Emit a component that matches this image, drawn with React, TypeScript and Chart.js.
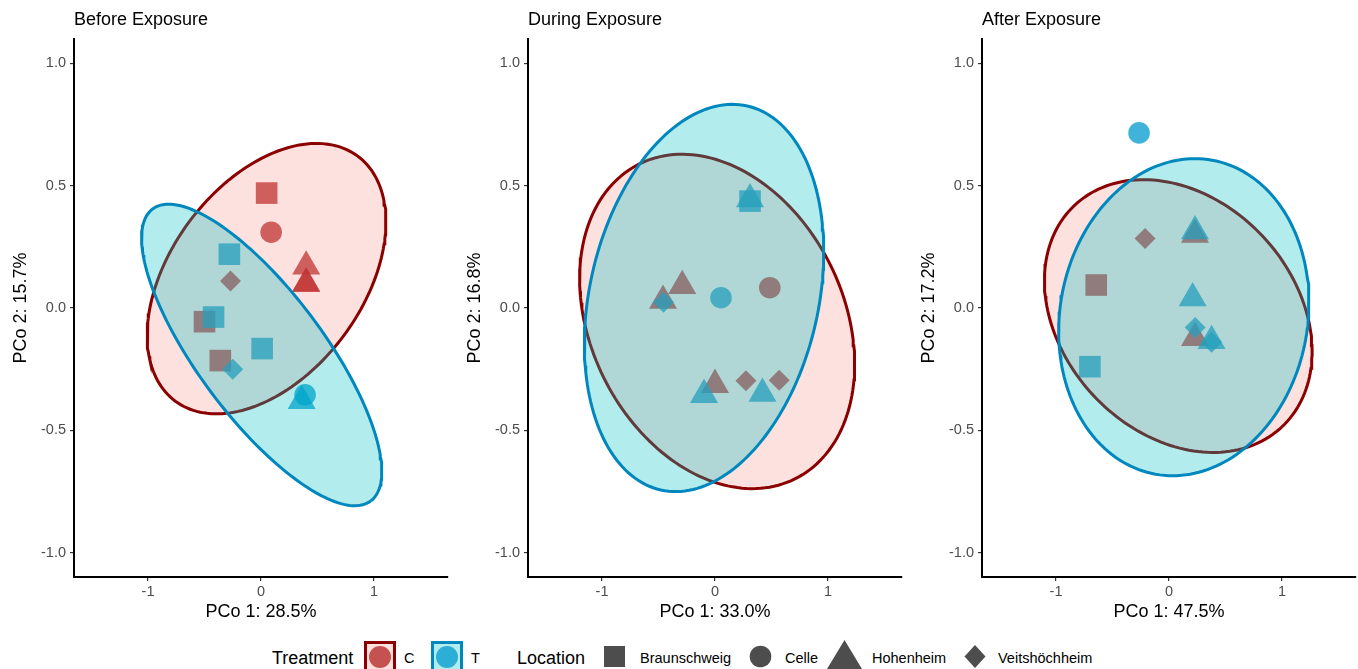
import React, { useEffect, useRef } from 'react';
import { Chart, registerables } from 'chart.js';

Chart.register(...registerables);

const FONT = '"Liberation Sans", Arial, Helvetica, sans-serif';

// ---- labels / ticks ----
const PANEL_TITLES = ['Before Exposure', 'During Exposure', 'After Exposure'];
const X_AXIS_TITLES = ['PCo 1: 28.5%', 'PCo 1: 33.0%', 'PCo 1: 47.5%'];
const Y_AXIS_TITLES = ['PCo 2: 15.7%', 'PCo 2: 16.8%', 'PCo 2: 17.2%'];
const X_TICKS = [-1, 0, 1];
const Y_TICKS = [-1, -0.5, 0, 0.5, 1];
const LOCATIONS = ['Braunschweig', 'Celle', 'Hohenheim', 'Veitshöchheim'];
// location codes: B = Braunschweig, C = Celle, H = Hohenheim, V = Veitshöchheim

// ---- Before exposure ----
const BEFORE_C_X = [0.05, 0.09, 0.40, 0.40, 0.40, -0.27, -0.50, -0.36];
const BEFORE_C_Y = [0.47, 0.31, 0.17, 0.10, 0.10, 0.11, -0.056, -0.215];
const BEFORE_C_LOC = ['B', 'C', 'H', 'H', 'H', 'V', 'B', 'B'];
const BEFORE_T_X = [-0.28, -0.42, 0.01, -0.25, 0.36, 0.39];
const BEFORE_T_Y = [0.22, -0.037, -0.166, -0.25, -0.38, -0.355];
const BEFORE_T_LOC = ['B', 'B', 'B', 'V', 'H', 'C'];
// ellipse: centre x, centre y, axis-1 dx, dy, axis-2 dx, dy
const BEFORE_C_ELLIPSE = [0.049, 0.12, 0.807, 0.501, -0.682, 0.234];
const BEFORE_T_ELLIPSE = [0.006, -0.192, 0.965, -0.597, 0.446, 0.1535];

// ---- During exposure ----
const DURING_C_X = [-0.46, -0.29, 0.485, 0.0, 0.274, 0.568];
const DURING_C_Y = [0.03, 0.09, 0.083, -0.314, -0.298, -0.295];
const DURING_C_LOC = ['H', 'H', 'C', 'H', 'V', 'V'];
const DURING_T_X = [0.31, 0.31, -0.456, 0.053, -0.097, 0.42];
const DURING_T_Y = [0.437, 0.445, 0.024, 0.042, -0.355, -0.35];
const DURING_T_LOC = ['B', 'H', 'V', 'C', 'H', 'H'];
const DURING_C_ELLIPSE = [0.019, -0.055, 0.688, -0.644, 1.004, 0.2295];
const DURING_T_ELLIPSE = [-0.097, 0.041, 0.383, 0.785, -0.9875, 0.103];

// ---- After exposure ----
const AFTER_C_X = [-0.212, 0.23, -0.644, 0.23];
const AFTER_C_Y = [0.284, 0.30, 0.094, -0.122];
const AFTER_C_LOC = ['V', 'H', 'B', 'H'];
const AFTER_T_X = [-0.265, 0.23, 0.209, 0.232, 0.377, 0.377, -0.70];
const AFTER_T_Y = [0.716, 0.314, 0.04, -0.08, -0.135, -0.14, -0.24];
const AFTER_T_LOC = ['C', 'H', 'H', 'V', 'H', 'V', 'B'];
const AFTER_C_ELLIPSE = [0.082, -0.033, 0.9156, -0.4538, 0.7517, 0.3243];
const AFTER_T_ELLIPSE = [0.131, -0.0376, 0.251, 0.642, -1.0787, 0.0902];

// ---- styles ----
const SHAPE_STYLE: Record<string, string> = { B: 'rect', C: 'circle', H: 'triangle', V: 'rectRot' };
const SHAPE_RADIUS: Record<string, number> = { B: 15.3, C: 10.8, H: 16.2, V: 10.5 };
const POINT_C = 'rgba(178,34,34,0.75)';
const POINT_T = 'rgba(0,154,205,0.75)';
const LINE_C = '#8B0000';
const LINE_T = '#0087BE';
const FILL_C = 'rgba(248,118,109,0.22)';
const FILL_T = 'rgba(0,191,196,0.3)';

const PANEL_LEFT = [0, 454, 908];

function ellipsePoints(e: number[]) {
  const pts: { x: number; y: number }[] = [];
  const n = 180;
  for (let i = 0; i <= n; i++) {
    const t = (i / n) * Math.PI * 2;
    pts.push({
      x: e[0] + e[2] * Math.cos(t) + e[4] * Math.sin(t),
      y: e[1] + e[3] * Math.cos(t) + e[5] * Math.sin(t),
    });
  }
  return pts;
}

function pointDataset(xs: number[], ys: number[], locs: string[], color: string, order: number) {
  return {
    type: 'scatter' as const,
    data: xs.map((x, i) => ({ x, y: ys[i] })),
    backgroundColor: color,
    borderWidth: 0,
    borderColor: 'rgba(0,0,0,0)',
    pointStyle: (ctx: any) => SHAPE_STYLE[locs[ctx.dataIndex]] as any,
    pointRadius: (ctx: any) => SHAPE_RADIUS[locs[ctx.dataIndex]],
    pointHoverRadius: (ctx: any) => SHAPE_RADIUS[locs[ctx.dataIndex]],
    order,
  };
}

function ellipseDataset(e: number[], line: string, fill: string, order: number) {
  return {
    type: 'scatter' as const,
    data: ellipsePoints(e),
    showLine: true,
    borderColor: line,
    borderWidth: 3,
    backgroundColor: fill,
    fill: 'shape' as any,
    pointRadius: 0,
    pointHoverRadius: 0,
    tension: 0,
    order,
  };
}

interface PanelProps {
  idx: number;
  cX: number[]; cY: number[]; cLoc: string[];
  tX: number[]; tY: number[]; tLoc: string[];
  cEll: number[]; tEll: number[];
}

function Panel(p: PanelProps) {
  const ref = useRef<HTMLCanvasElement>(null);
  useEffect(() => {
    const chart = new Chart(ref.current as HTMLCanvasElement, {
      type: 'scatter',
      data: {
        datasets: [
          ellipseDataset(p.tEll, LINE_T, FILL_T, 0),
          ellipseDataset(p.cEll, LINE_C, FILL_C, 1),
          pointDataset(p.tX, p.tY, p.tLoc, POINT_T, 2),
          pointDataset(p.cX, p.cY, p.cLoc, POINT_C, 3),
        ] as any,
      },
      options: {
        animation: false,
        responsive: false,
        maintainAspectRatio: false,
        devicePixelRatio: 1,
        events: [],
        layout: { autoPadding: false, padding: { top: 39, right: 2, left: 0, bottom: 0 } },
        plugins: {
          legend: { display: false },
          tooltip: { enabled: false },
          title: { display: false },
        },
        scales: {
          x: {
            type: 'linear',
            min: -1.655,
            max: 1.655,
            afterBuildTicks: (s: any) => { s.ticks = X_TICKS.map((v) => ({ value: v })); },
            afterFit: (s: any) => { s.height = 53; },
            grid: { display: true, drawOnChartArea: false, drawTicks: true, tickLength: 4, color: '#333333', lineWidth: 1.2 },
            border: { display: true, color: '#000000', width: 2 },
            ticks: {
              font: { family: FONT, size: 14.5 },
              color: '#4D4D4D',
              padding: 2,
              maxRotation: 0,
              autoSkip: false,
              callback: (v: any) => String(v),
            },
            title: {
              display: true,
              text: X_AXIS_TITLES[p.idx],
              font: { family: FONT, size: 18 },
              color: '#000000',
              padding: { top: 0, bottom: 7 },
            },
          },
          y: {
            type: 'linear',
            min: -1.1,
            max: 1.1,
            afterBuildTicks: (s: any) => { s.ticks = Y_TICKS.map((v) => ({ value: v })); },
            afterFit: (s: any) => { s.width = 74; },
            grid: { display: true, drawOnChartArea: false, drawTicks: true, tickLength: 4, color: '#333333', lineWidth: 1.2 },
            border: { display: true, color: '#000000', width: 2 },
            ticks: {
              font: { family: FONT, size: 14.5 },
              color: '#4D4D4D',
              padding: 4,
              autoSkip: false,
              callback: (v: any) => Number(v).toFixed(1),
            },
            title: {
              display: true,
              text: Y_AXIS_TITLES[p.idx],
              font: { family: FONT, size: 18 },
              color: '#000000',
              padding: { top: 10, bottom: 0 },
            },
          },
        },
      } as any,
    });
    return () => chart.destroy();
  }, []);
  const left = PANEL_LEFT[p.idx];
  return (
    <>
      <canvas
        ref={ref}
        width={450}
        height={630}
        style={{ position: 'absolute', left, top: 0, width: 450, height: 630 }}
      />
      <div
        style={{
          position: 'absolute', left: left + 74, top: 9.6, fontFamily: FONT, fontSize: 18,
          lineHeight: '18px', whiteSpace: 'nowrap', color: '#000',
        }}
      >
        {PANEL_TITLES[p.idx]}
      </div>
    </>
  );
}

function Txt({ left, top, size, children }: { left: number; top: number; size: number; children: any }) {
  return (
    <span
      style={{
        position: 'absolute', left, top, fontFamily: FONT, fontSize: size,
        lineHeight: `${size}px`, whiteSpace: 'nowrap', color: '#000',
      }}
    >
      {children}
    </span>
  );
}

function Legend() {
  const grey = '#4D4D4D';
  return (
    <>
      <Txt left={272} top={648.7} size={18}>Treatment</Txt>
      <div style={{ position: 'absolute', left: 364, top: 641, width: 26, height: 26, border: `3px solid ${LINE_C}`, background: FILL_C }}>
        <div style={{ position: 'absolute', left: 2, top: 2, width: 22, height: 22, borderRadius: 11, background: POINT_C }} />
      </div>
      <Txt left={404} top={650.7} size={14.5}>C</Txt>
      <div style={{ position: 'absolute', left: 431, top: 641, width: 26, height: 26, border: `3px solid ${LINE_T}`, background: FILL_T }}>
        <div style={{ position: 'absolute', left: 2, top: 2, width: 22, height: 22, borderRadius: 11, background: POINT_T }} />
      </div>
      <Txt left={471} top={650.7} size={14.5}>T</Txt>
      <Txt left={517} top={648.7} size={18}>Location</Txt>
      <svg style={{ position: 'absolute', left: 600, top: 640, width: 36, height: 30 }} width={36} height={30}>
        <rect x={4} y={6} width={21} height={21} fill={grey} />
      </svg>
      <Txt left={640} top={650.7} size={14.5}>{LOCATIONS[0]}</Txt>
      <svg style={{ position: 'absolute', left: 746, top: 640, width: 36, height: 30 }} width={36} height={30}>
        <circle cx={14.5} cy={16.5} r={10.8} fill={grey} />
      </svg>
      <Txt left={785} top={650.7} size={14.5}>{LOCATIONS[1]}</Txt>
      <svg style={{ position: 'absolute', left: 825, top: 636, width: 40, height: 34 }} width={40} height={34}>
        <polygon points="19.5,4 37,33 2,33" fill={grey} />
      </svg>
      <Txt left={872} top={650.7} size={14.5}>{LOCATIONS[2]}</Txt>
      <svg style={{ position: 'absolute', left: 962, top: 640, width: 30, height: 30 }} width={30} height={30}>
        <polygon points="13,5 23.5,16.5 13,28 2.5,16.5" fill={grey} />
      </svg>
      <Txt left={998} top={650.7} size={14.5}>{LOCATIONS[3]}</Txt>
    </>
  );
}

export default function App() {
  return (
    <div style={{ position: 'absolute', left: 0, top: 0, width: 1358, height: 669, background: '#fff', overflow: 'hidden' }}>
      <Panel idx={0} cX={BEFORE_C_X} cY={BEFORE_C_Y} cLoc={BEFORE_C_LOC} tX={BEFORE_T_X} tY={BEFORE_T_Y} tLoc={BEFORE_T_LOC} cEll={BEFORE_C_ELLIPSE} tEll={BEFORE_T_ELLIPSE} />
      <Panel idx={1} cX={DURING_C_X} cY={DURING_C_Y} cLoc={DURING_C_LOC} tX={DURING_T_X} tY={DURING_T_Y} tLoc={DURING_T_LOC} cEll={DURING_C_ELLIPSE} tEll={DURING_T_ELLIPSE} />
      <Panel idx={2} cX={AFTER_C_X} cY={AFTER_C_Y} cLoc={AFTER_C_LOC} tX={AFTER_T_X} tY={AFTER_T_Y} tLoc={AFTER_T_LOC} cEll={AFTER_C_ELLIPSE} tEll={AFTER_T_ELLIPSE} />
      <Legend />
    </div>
  );
}
